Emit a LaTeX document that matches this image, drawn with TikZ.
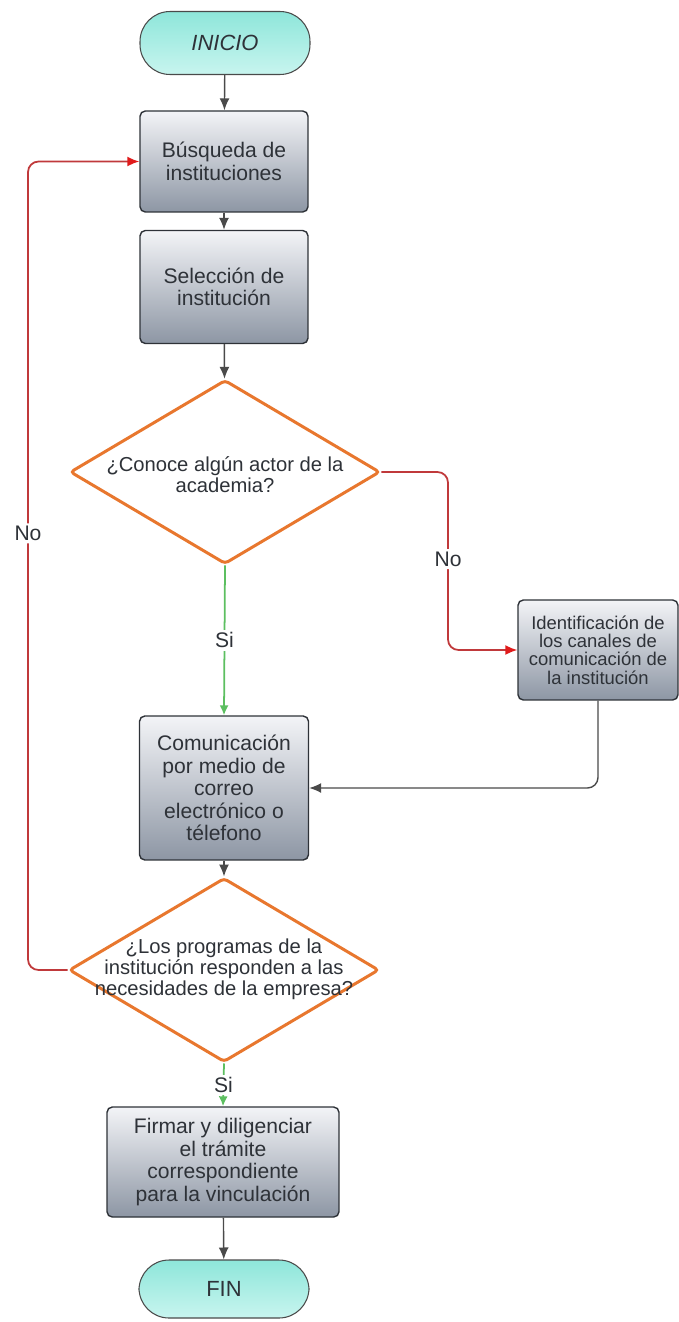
\documentclass[tikz,border=0pt]{standalone}
\usepackage{fontspec}
\setmainfont{Liberation Sans}
\usepackage{xcolor}
\usepackage{tikz}
\usetikzlibrary{arrows.meta,shapes.geometric}
\definecolor{Ink}{HTML}{2E3238}
\definecolor{LineGray}{HTML}{4A4A4A}
\definecolor{Decision}{HTML}{E8772E}
\definecolor{NoRed}{HTML}{C0393B}
\definecolor{NoTip}{HTML}{E01B1B}
\definecolor{SiGreen}{HTML}{5CBF60}
\definecolor{BoxTop}{HTML}{F3F4F7}
\definecolor{BoxBottom}{HTML}{8D96A4}
\definecolor{TermTop}{HTML}{8EE6DA}
\definecolor{TermBottom}{HTML}{C8F5EF}

\tikzset{
  process/.style={draw=Ink, line width=0.8pt, rounded corners=3pt,
    top color=BoxTop, bottom color=BoxBottom, align=center, inner sep=2pt,
    text=Ink, font=\fontsize{12}{12.8}\selectfont},
  terminal/.style={draw=LineGray, line width=0.6pt, rounded corners=0.6cm,
    top color=TermTop, bottom color=TermBottom, text=Ink,
    font=\fontsize{12.5}{14}\selectfont, minimum width=3.4cm},
  decision/.style={shape=diamond, draw=Decision, line width=1.7pt, rounded corners=2pt,
    fill=white, inner sep=0pt, minimum width=6.2cm, minimum height=3.68cm,
    text=Ink, font=\fontsize{11.5}{11.8}\selectfont},
  flow/.style={draw=LineGray, line width=0.8pt, -{Latex[length=2.4mm,width=2mm]}},
  noline/.style={draw=NoRed, line width=1pt, rounded corners=6pt,
    -{Latex[length=2.4mm,width=2mm,color=NoTip]}},
  siline/.style={draw=SiGreen, line width=1pt,
    -{Latex[length=2mm,width=1.8mm]}},
  lbl/.style={fill=white, inner sep=1.5pt, text=Ink, font=\fontsize{12}{13}\selectfont},
}

\begin{document}
\begin{tikzpicture}[x=0.02cm,y=-0.02cm]
  \useasboundingbox (0,0) rectangle (679,1322);

  % terminales
  \node[terminal, minimum height=1.26cm] (start) at (225,43) {\itshape INICIO};
  \node[terminal, minimum height=1.16cm] (fin) at (224,1289) {FIN};

  % procesos
  \node[process, minimum width=3.36cm, minimum height=2.02cm] (busq) at (224,161.5)
    {B\'usqueda de\\instituciones};
  \node[process, minimum width=3.36cm, minimum height=2.26cm] (selec) at (224,287)
    {Selecci\'on de\\instituci\'on};
  \node[process, minimum width=3.2cm, minimum height=2.0cm,
    font=\fontsize{10.5}{10.4}\selectfont] (ident) at (598,650)
    {Identificaci\'on de\\los canales de\\comunicaci\'on de\\la instituci\'on};
  \node[process, minimum width=3.38cm, minimum height=2.88cm] (comm) at (224,788)
    {Comunicaci\'on\\por medio de\\correo\\electr\'onico o\\t\'elefono};
  \node[process, minimum width=4.64cm, minimum height=2.2cm] (firm) at (223,1162)
    {Firmar y diligenciar\\el tr\'amite\\correspondiente\\para la vinculaci\'on};

  % decisiones
  \node[decision] (q1) at (225,472)
    {\makebox[0pt]{\raisebox{-6.3pt}[0pt][0pt]{\begin{tabular}{@{}c@{}}\textquestiondown Conoce alg\'un actor de la\\academia?\end{tabular}}}};
  \node[decision] (q2) at (224,970)
    {\makebox[0pt]{\begin{tabular}{@{}c@{}}\textquestiondown Los programas de la\\instituci\'on responden a las\\necesidades de la empresa?\end{tabular}}};

  \coordinate (nobend) at (448,472);
  \coordinate (nocorner) at (28,970);

  % conectores
  \draw[flow] (start) -- (busq);
  \draw[flow] (busq) -- (selec);
  \draw[flow] (selec) -- (q1);
  \draw[noline] (q1.east) -- (nobend) |- node[pos=0.245, lbl] {No} (ident.west);
  \draw[siline] (q1.south) -- node[lbl] {Si} (comm.north);
  \draw[flow, rounded corners=6pt] (ident.south) |- (comm.east);
  \draw[flow] (comm) -- (q2);
  \draw[noline] (q2.west) -- (nocorner) |- node[pos=0.27, lbl] {No} (busq.west);
  \draw[siline] (q2.south) -- node[lbl] {Si} (firm.north);
  \draw[flow] (firm) -- (fin);
\end{tikzpicture}
\end{document}
